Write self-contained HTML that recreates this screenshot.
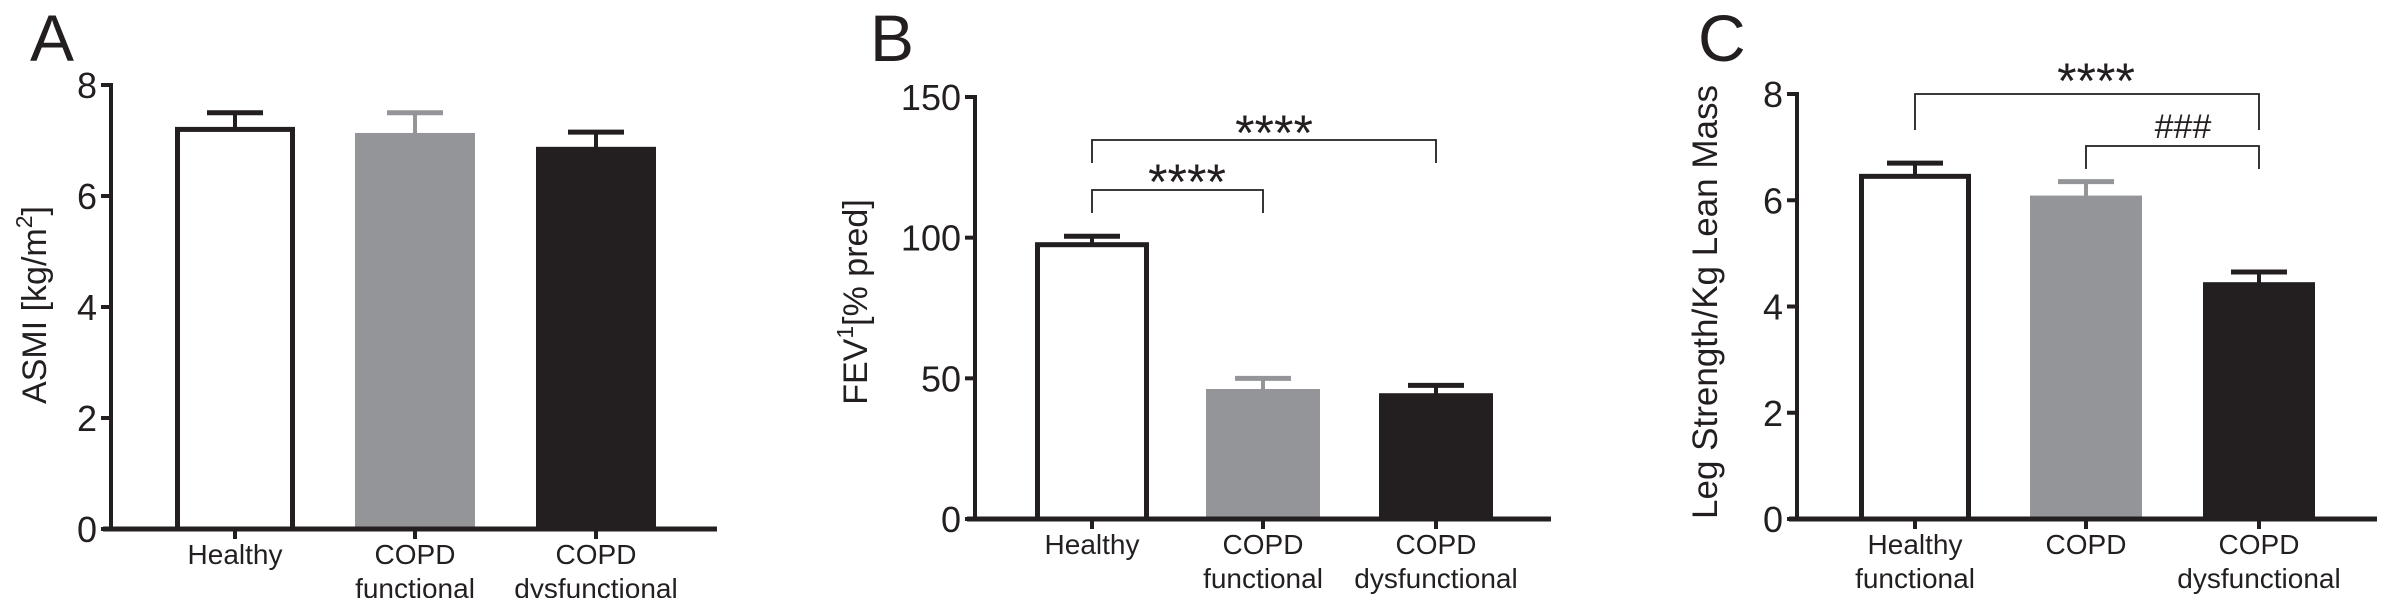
<!DOCTYPE html>
<html><head><meta charset="utf-8">
<style>
html,body{margin:0;padding:0;background:#fff;}
svg{display:block;}
text{font-family:"Liberation Sans Narrow","Liberation Sans",sans-serif;fill:#231f20;}
.ytitle{font-family:"Liberation Sans",sans-serif;}
</style></head>
<body>
<svg id="fig" width="2392" height="598" viewBox="0 0 2392 598" xmlns="http://www.w3.org/2000/svg"></svg>
<script>
const categoriesA = [["Healthy"],["COPD","functional"],["COPD","dysfunctional"]];
const valuesA = [7.2, 7.1, 6.85];
const errorsA = [0.3, 0.4, 0.3];
const ticksA = [0,2,4,6,8];

const categoriesB = [["Healthy"],["COPD","functional"],["COPD","dysfunctional"]];
const valuesB = [97.5, 45.5, 44];
const errorsB = [3, 4.5, 3.5];
const ticksB = [0,50,100,150];

const categoriesC = [["Healthy","functional"],["COPD"],["COPD","dysfunctional"]];
const valuesC = [6.45, 6.05, 4.42];
const errorsC = [0.25, 0.3, 0.23];
const ticksC = [0,2,4,6,8];

const fills = ["#ffffff","#939598","#231f20"];
const NS = "http://www.w3.org/2000/svg";
const svg = document.getElementById('fig');
function el(tag, attrs, parent, txt){
  const e = document.createElementNS(NS, tag);
  for (const k in attrs) e.setAttribute(k, attrs[k]);
  if (txt !== undefined) e.textContent = txt;
  (parent||svg).appendChild(e);
  return e;
}

function panel(cfg){
  const g = el('g', {});
  
  
  const y = v => cfg.y0 - (v - 0) / cfg.max * (cfg.y0 - cfg.yTop);
  const lt = el('text', {x: cfg.letterX, y: 61, 'font-size': 66, 'class':'ytitle'}, g, cfg.letter);
  
  
  cfg.vals.forEach((v, i) => {
    const cx = cfg.centers[i], hw = cfg.barW/2;
    const col = fills[i];
    const errTop = y(v + cfg.errs[i]);
    const ec = i===1 ? '#939598' : '#231f20';
    const eline = el('line', {x1: cx, x2: cx, y1: y(v), y2: errTop, stroke: ec, 'stroke-width': 4}, g);
    
    
    const ecap = el('line', {x1: cx-28, x2: cx+28, y1: errTop, y2: errTop, stroke: ec, 'stroke-width': 5}, g);
    
    
    let r;
    if (i === 0) {
      r = el('rect', {x: cx-hw+2.5, y: y(v), width: cfg.barW-5, height: cfg.y0 - y(v), fill: '#fff', stroke: '#231f20', 'stroke-width': 5}, g);
    } else {
      r = el('rect', {x: cx-hw, y: y(v)-2, width: cfg.barW, height: cfg.y0 - y(v)+2, fill: col}, g);
    }
    
    
    const xt = el('line', {x1: cx, x2: cx, y1: cfg.y0, y2: cfg.y0+10, stroke: '#231f20', 'stroke-width': 4}, g);
    
    
    cfg.cats[i].forEach((line, j) => {
      const t = el('text', {x: cx, y: cfg.y0 + 35 + j*34, 'font-size': 28, 'text-anchor': 'middle'}, g, line);
      
      
    });
  });
  const ya = el('line', {x1: cfg.ax, x2: cfg.ax, y1: cfg.yTop-2, y2: cfg.y0+2, stroke: '#231f20', 'stroke-width': 4}, g);
  
  
  const xa = el('line', {x1: cfg.ax-8, x2: cfg.xEnd, y1: cfg.y0, y2: cfg.y0, stroke: '#231f20', 'stroke-width': 5}, g);
  
  
  cfg.ticks.forEach(tv => {
    const tl = el('line', {x1: cfg.ax-10, x2: cfg.ax, y1: y(tv), y2: y(tv), stroke: '#231f20', 'stroke-width': 4}, g);
    
    
    const tt = el('text', {x: cfg.ax-14, y: y(tv)+13, 'font-size': 36, 'text-anchor': 'end'}, g, String(tv));
    
    
  });
  const yt = el('text', {x: 0, y: 0, 'font-size': cfg.titleFs, 'text-anchor': 'middle', 'class':'ytitle', transform: `translate(${cfg.titleX},${cfg.titleY}) rotate(-90)`}, g);
  
  
  cfg.title(yt);
  (cfg.brackets||[]).forEach(b => {
    const p = el('path', {d: `M${cfg.centers[b.a]},${b.y2} V${b.y1} H${cfg.centers[b.b]} V${b.y2}`, fill: 'none', stroke: '#231f20', 'stroke-width': 1.8}, g);
    
    
    const st = el('text', {x: b.lx, y: b.ly, 'font-size': b.fs, 'text-anchor': 'middle', 'class':'ytitle'}, g, b.label);
    
    
  });
}

function tspan(parent, txt, attrs){ el('tspan', attrs||{}, parent, txt); }

panel({letter:'A', letterX:30, ax:111, yTop:85, y0:529, xEnd:717, max:8,
  centers:[235,415,596], barW:120, vals:valuesA, errs:errorsA, ticks:ticksA, cats:categoriesA,
  titleX:46, titleY:305, titleFs:34,
  title: t => { tspan(t,'ASMI [kg/m'); tspan(t,'2',{'font-size':23,dy:-14}); tspan(t,']',{dy:14}); }
});
panel({letter:'B', letterX:870, ax:975, yTop:97, y0:519, xEnd:1551, max:150,
  centers:[1092,1263,1436], barW:114, vals:valuesB, errs:errorsB, ticks:ticksB, cats:categoriesB,
  titleX:867, titleY:302, titleFs:34,
  title: t => { tspan(t,'FEV'); tspan(t,'1',{'font-size':23,dy:-14}); tspan(t,'[% pred]',{dy:14}); },
  brackets:[{a:0,b:2,y1:140,y2:163,label:'****',lx:1274,ly:150,fs:50},
            {a:0,b:1,y1:190,y2:213,label:'****',lx:1187,ly:199,fs:50}]
});
panel({letter:'C', letterX:1698, ax:1797, yTop:94, y0:519, xEnd:2377, max:8,
  centers:[1915,2086,2259], barW:112, vals:valuesC, errs:errorsC, ticks:ticksC, cats:categoriesC,
  titleX:1717, titleY:302, titleFs:35,
  title: t => { tspan(t,'Leg Strength/Kg Lean Mass'); },
  brackets:[{a:0,b:2,y1:94,y2:130,label:'****',lx:2096,ly:98,fs:50},
            {a:1,b:2,y1:146,y2:169,label:'###',lx:2183,ly:138,fs:34}]
});
</script>
</body></html>
